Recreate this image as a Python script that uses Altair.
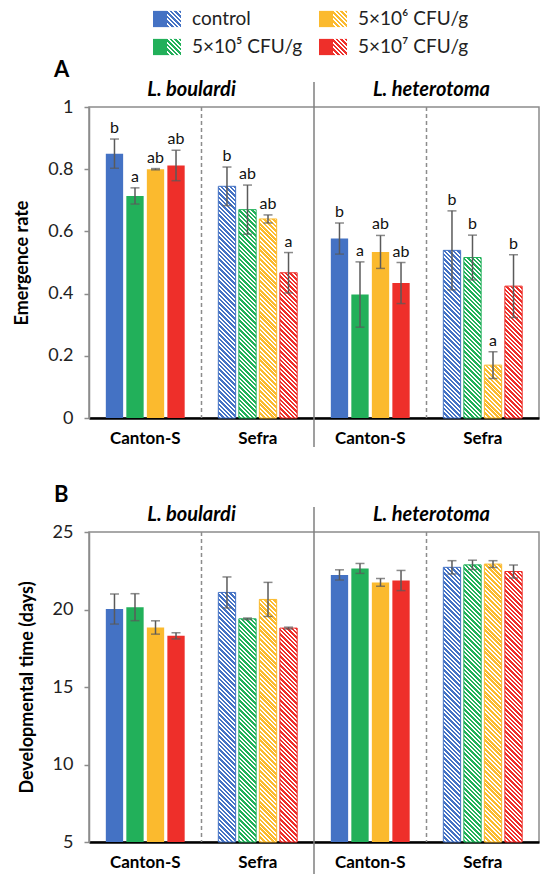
import altair as alt
import pandas as pd

FONT = "Lato"

# ---------------- data ----------------
species = ["L. boulardi", "L. heterotoma"]
strains = ["Canton-S", "Sefra"]
treatments = ["control", "5×10⁵ CFU/g", "5×10⁶ CFU/g", "5×10⁷ CFU/g"]
colors = ["#4472C4", "#22B05A", "#FBBA2E", "#EE2F2A"]

# order of groups: (L. boulardi, Canton-S), (L. boulardi, Sefra),
#                  (L. heterotoma, Canton-S), (L. heterotoma, Sefra)
emergence_mean = [0.850, 0.714, 0.800, 0.812,
                  0.745, 0.670, 0.640, 0.467,
                  0.577, 0.397, 0.534, 0.434,
                  0.539, 0.516, 0.170, 0.424]
emergence_err = [0.047, 0.026, 0.002, 0.049,
                 0.062, 0.079, 0.013, 0.065,
                 0.050, 0.105, 0.053, 0.066,
                 0.127, 0.072, 0.043, 0.101]
emergence_letters = ["b", "a", "ab", "ab",
                     "b", "ab", "ab", "a",
                     "b", "a", "ab", "ab",
                     "b", "b", "a", "b"]
devtime_mean = [20.03, 20.15, 18.84, 18.30,
                21.10, 19.40, 20.65, 18.80,
                22.23, 22.65, 21.75, 21.87,
                22.72, 22.88, 22.93, 22.45]
devtime_err = [0.97, 0.87, 0.43, 0.20,
               1.00, 0.05, 1.10, 0.06,
               0.33, 0.32, 0.25, 0.65,
               0.43, 0.30, 0.22, 0.42]
emergence_ticks = [0, 0.2, 0.4, 0.6, 0.8, 1]
devtime_ticks = [5, 10, 15, 20, 25]

groups = [f"{sp}|{st}" for sp in species for st in strains]

# ---------------- layout / style ----------------
W = 450
PAD_IN = 0.156
PAD_OUT = 0.82
STEP = (W / len(groups)) / (len(treatments) - PAD_IN + 2 * PAD_OUT)
BAR_W = STEP * (1 - PAD_IN)
ERR_C = "#5a5a5a"
GRID_C = "#8c8c8c"


def hatch(color, w, h, period=4.4, frac=0.56):
    """Diagonal stripes as a hard-stop linear gradient in bbox units."""
    L = w + h
    k = L / (w * w + h * h)
    stops = []
    i = 0
    while True:
        a = i * period / L
        if a >= 1:
            break
        b = min((i * period + period * frac) / L, 1)
        c = min((i + 1) * period / L, 1)
        stops += [{"offset": a, "color": color}, {"offset": b, "color": color},
                  {"offset": b, "color": "#ffffff"}, {"offset": c, "color": "#ffffff"}]
        i += 1
    return {"gradient": "linear", "x1": 0, "y1": 1, "x2": k * w, "y2": 1 - k * h,
            "stops": stops}


def build_df(means, errs, letters):
    rows = []
    for gi, g in enumerate(groups):
        for ti, t in enumerate(treatments):
            i = gi * len(treatments) + ti
            rows.append(dict(group=g, strain=g.split("|")[1], treatment=t,
                             mean=means[i], lo=means[i] - errs[i], hi=means[i] + errs[i],
                             letter=letters[i] if letters else "", ti=ti))
    return pd.DataFrame(rows)


def panel(means, errs, letters, ymin, ymax, ticks, H, ytitle, tag, title_pad,
          sep_ext, bottom_ext):
    df = build_df(means, errs, letters)
    x_axis = alt.Axis(title=None, labelExpr="split(datum.label, '|')[1]", ticks=False,
                      tickSize=0, domainColor="#000000", domainWidth=2.5, labelFontSize=17,
                      labelFontWeight="bold", labelColor="#000000", labelPadding=12,
                      labelAngle=0)

    def X(bp=None):
        kw = {} if bp is None else {"bandPosition": bp}
        return alt.X("group:N", scale=alt.Scale(domain=groups, paddingInner=0, paddingOuter=0),
                     axis=x_axis, **kw)

    XO = alt.XOffset("treatment:N",
                     scale=alt.Scale(domain=treatments, paddingInner=PAD_IN, paddingOuter=PAD_OUT))
    yscale = alt.Scale(domain=[ymin, ymax], nice=False, zero=False)
    y_axis = alt.Axis(values=ticks, format="~g", title=ytitle, titlePadding=title_pad,
                      titleFontSize=18, titleFontWeight="bold", titleColor="#000000",
                      labelFontSize=18, labelColor="#222222", labelPadding=11,
                      tickSize=5, tickColor=GRID_C, tickWidth=1.5, domainColor=GRID_C,
                      domainWidth=1.5, grid=False)

    def Y(f):
        return alt.Y(f"{f}:Q", scale=yscale, axis=y_axis)

    base = alt.Chart(df)
    layers = []

    # separators
    dash_df = pd.DataFrame({"group": [groups[1], groups[3]]})
    solid_df = pd.DataFrame({"group": [groups[2]]})
    layers.append(alt.Chart(dash_df).mark_rule(color=GRID_C, strokeWidth=1.5, strokeDash=[4, 3])
                  .encode(x=X(0), y=alt.value(0), y2=alt.value(H)))
    layers.append(alt.Chart(solid_df).mark_rule(color="#7f7f7f", strokeWidth=1.5)
                  .encode(x=X(0), y=alt.value(-25), y2=alt.value(H + sep_ext)))
    if bottom_ext:
        # invisible spacer that reserves room below the panel
        layers.append(alt.Chart(solid_df).mark_rule(opacity=0)
                      .encode(x=X(0), y=alt.value(H), y2=alt.value(H + bottom_ext)))

    # solid bars (Canton-S)
    layers.append(base.transform_filter(alt.datum.strain == strains[0]).mark_bar()
                  .encode(x=X(), xOffset=XO, y=Y("mean"), y2=alt.datum(ymin),
                          fill=alt.Color("treatment:N",
                                         scale=alt.Scale(domain=treatments, range=colors),
                                         legend=None)))
    # hatched bars (Sefra)
    for _, r in df[df.strain == strains[1]].iterrows():
        h = (r["mean"] - ymin) / (ymax - ymin) * H
        col = colors[int(r["ti"])]
        layers.append(
            base.transform_filter((alt.datum.group == r["group"]) &
                                  (alt.datum.treatment == r["treatment"]))
            .mark_bar(fill=hatch(col, BAR_W, h), stroke=col, strokeWidth=1)
            .encode(x=X(), xOffset=XO, y=Y("mean"), y2=alt.datum(ymin)))

    # error bars
    layers.append(base.mark_rule(color=ERR_C, strokeWidth=1.5)
                  .encode(x=X(), xOffset=XO, y=Y("lo"), y2="hi:Q"))
    for f in ["lo", "hi"]:
        layers.append(base.mark_tick(color=ERR_C, size=9, thickness=1.5, orient="horizontal")
                      .encode(x=X(), xOffset=XO, y=Y(f)))
    # letters
    if letters:
        layers.append(base.mark_text(baseline="bottom", dy=-3, fontSize=16, color="#111111")
                      .encode(x=X(), xOffset=XO, y=Y("hi"), text="letter:N"))
    # species headers
    for sp, g, dx in [(species[0], groups[1], -10), (species[1], groups[3], 5)]:
        layers.append(alt.Chart(pd.DataFrame({"group": [g], "label": [sp]}))
                      .mark_text(fontSize=20, fontWeight="bold", fontStyle="italic",
                                 baseline="middle", dx=dx, color="#000000")
                      .encode(x=X(0), y=alt.value(-17), text="label:N"))

    return alt.layer(*layers).properties(
        width=W, height=H,
        title=alt.TitleParams(tag, anchor="start", frame="group", dx=-35, fontSize=22,
                              fontWeight="bold", offset=-2, color="#000000"))


# ---------------- legend ----------------
SHAPE = "M-1,-1.16H1V1.16H-1Z"
leg_df = pd.DataFrame({"treatment": treatments, "col": [0, 0, 1, 1], "row": [0, 1, 0, 1]})
LX = alt.X("col:O", scale=alt.Scale(type="point", domain=[0, 1], range=[71, 237], padding=0),
           axis=None)
LY = alt.Y("row:O", scale=alt.Scale(type="point", domain=[0, 1], range=[18, 46], padding=0),
           axis=None)
leg_layers = [alt.Chart(leg_df).mark_point(shape=SHAPE, size=196, filled=True, opacity=1,
                                           strokeWidth=0)
              .encode(x=LX, y=LY, fill=alt.Color("treatment:N",
                                                 scale=alt.Scale(domain=treatments, range=colors),
                                                 legend=None))]
for t, c in zip(treatments, colors):
    leg_layers.append(alt.Chart(leg_df).transform_filter(alt.datum.treatment == t)
                      .mark_point(shape=SHAPE, size=196, filled=True, opacity=1, strokeWidth=0,
                                  fill=hatch(c, 14, 16.2, period=4.6), xOffset=14)
                      .encode(x=LX, y=LY))
leg_layers.append(alt.Chart(leg_df).mark_text(align="left", baseline="middle", dx=32,
                                              fontSize=19, color="#222222")
                  .encode(x=LX, y=LY, text="treatment:N"))
legend = alt.layer(*leg_layers).properties(width=W, height=50,
                                           view=alt.ViewBackground(stroke="transparent"))

pA = panel(emergence_mean, emergence_err, emergence_letters, 0, 1, emergence_ticks, 311,
           "Emergence rate", "A", 16, 29, 64)
pB = panel(devtime_mean, devtime_err, None, 5, 25, devtime_ticks, 310,
           "Developmental time (days)", "B", 16, 32, 0)

chart = (alt.vconcat(legend, pA, pB, spacing=0)
         .properties(padding={"left": 13, "top": 0, "right": 0, "bottom": 0})
         .configure(font=FONT)
         .configure_view(stroke=GRID_C, strokeWidth=1.5)
         .configure_title(font=FONT)
         .configure_axis(labelFont=FONT, titleFont=FONT))

chart.save("out.html", embed_options={"renderer": "svg", "actions": False})
